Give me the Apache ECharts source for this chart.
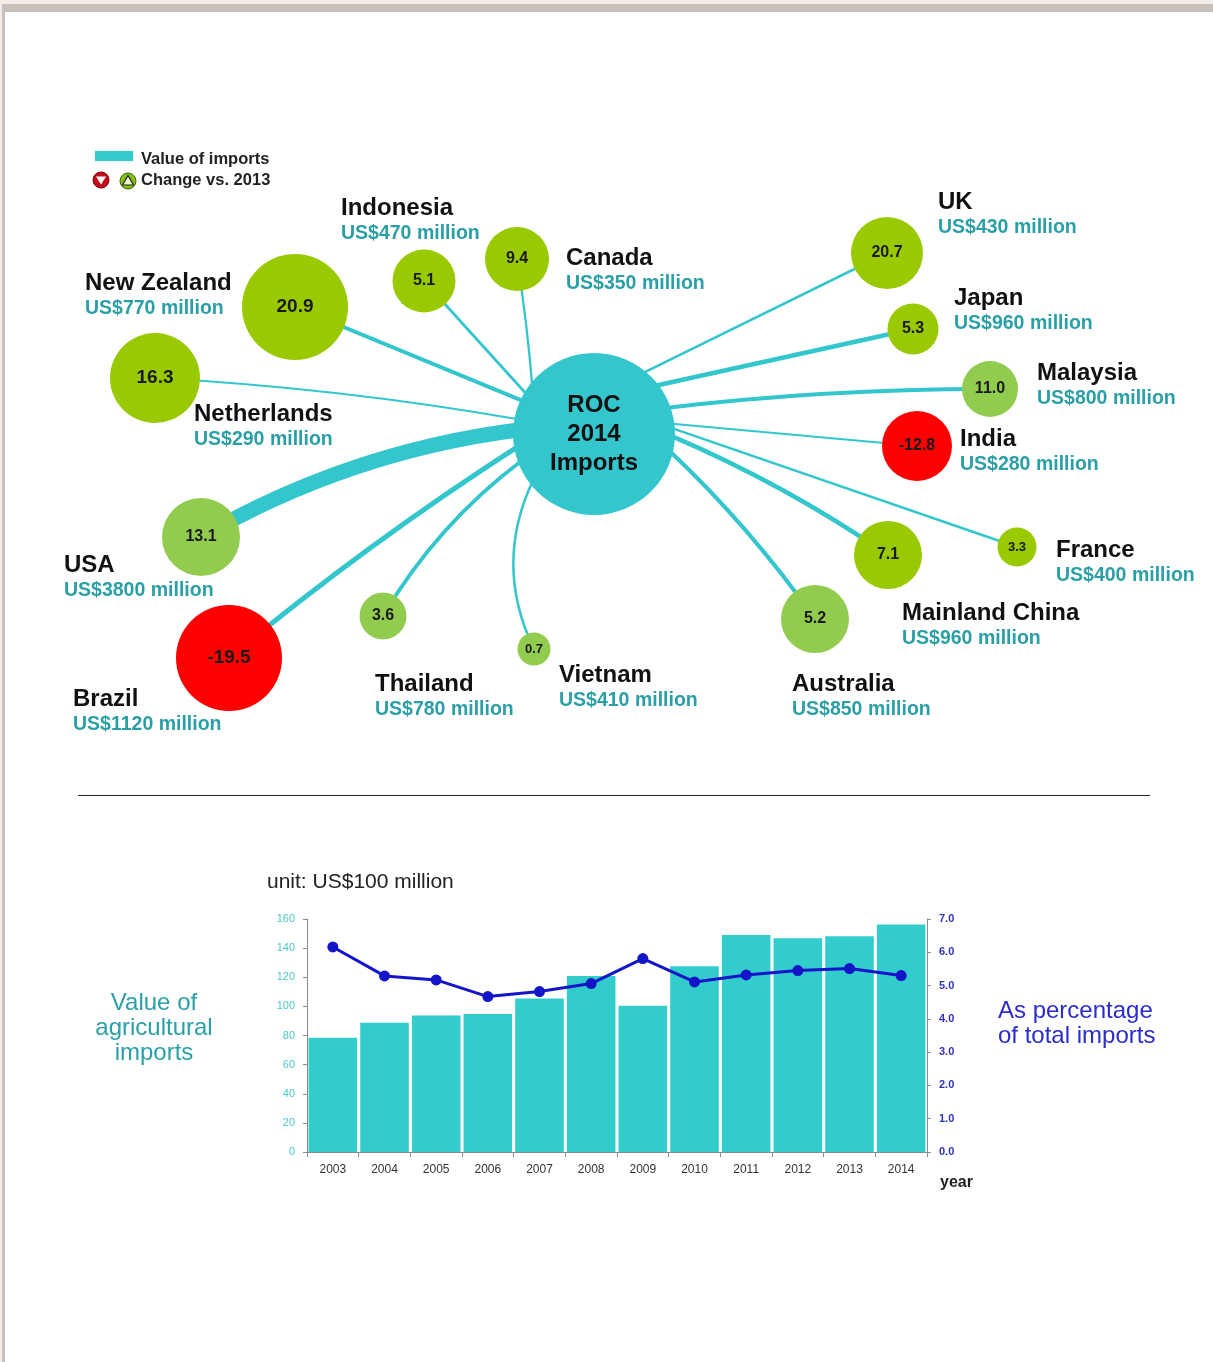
<!DOCTYPE html>
<html>
<head>
<meta charset="utf-8">
<title>ROC 2014 agricultural imports</title>
<script src="https://cdn.jsdelivr.net/npm/echarts@6/dist/echarts.min.js"></script>
<style>
  html, body { margin: 0; padding: 0; background: #f3ece7; }
  #frame { position: absolute; left: 2px; top: 4px; width: 1211px; height: 1358px; background: #fff;
           border-top: 8px solid #c9bfbc; border-left: 3px solid #c9bfbc; box-sizing: border-box; }
  #main { position: absolute; left: 0; top: 0; width: 1213px; height: 1362px; }
</style>
</head>
<body>
<div id="frame"></div>
<div id="main"></div>
<script>
// ---- data: top diagram ----
const countries = ['Indonesia', 'Canada', 'New Zealand', 'Netherlands', 'USA', 'Brazil', 'Thailand', 'Vietnam',
                   'Australia', 'Mainland China', 'France', 'India', 'Malaysia', 'Japan', 'UK'];
const importValues = [470, 350, 770, 290, 3800, 1120, 780, 410, 850, 960, 400, 280, 800, 960, 430]; // US$ million
const changeVs2013 = [5.1, 9.4, 20.9, 16.3, 13.1, -19.5, 3.6, 0.7, 5.2, 7.1, 3.3, -12.8, 11.0, 5.3, 20.7]; // %

// ---- data: bottom chart ----
const years = ['2003', '2004', '2005', '2006', '2007', '2008', '2009', '2010', '2011', '2012', '2013', '2014'];
const agriImports = [78.5, 88.8, 93.8, 94.7, 105.4, 120.9, 100.5, 127.5, 149.0, 146.7, 148.1, 156.3]; // US$100 million
const shareOfTotal = [6.16, 5.29, 5.17, 4.67, 4.82, 5.06, 5.81, 5.11, 5.32, 5.45, 5.51, 5.30]; // %
const leftTicks = [0, 160, 20];
const rightTicks = [0, 7, 1];

// layout of the diagram: bubble centre, diameter, label anchor,
// angle where the link meets the hub (deg, screen), link curve, lighter shade
const layout = {
  'Indonesia':      { at: [424, 281], d: 63,  lab: [341, 221], end: -150, curve: 0,     light: false },
  'Canada':         { at: [517, 259], d: 64,  lab: [566, 271], end: -144, curve: 0.02,  light: false },
  'New Zealand':    { at: [295, 307], d: 106, lab: [85, 296],  end: -155, curve: 0,     light: false },
  'Netherlands':    { at: [155, 378], d: 90,  lab: [194, 427], end: -169, curve: 0.03,  light: false },
  'USA':            { at: [201, 537], d: 78,  lab: [64, 578],  end: -177, curve: 0.1,   light: true },
  'Brazil':         { at: [229, 658], d: 106, lab: [73, 712],  end: 171,  curve: 0.03,  light: false },
  'Thailand':       { at: [383, 616], d: 47,  lab: [375, 697], end: 160,  curve: 0.1,   light: true },
  'Vietnam':        { at: [534, 649], d: 33,  lab: [559, 688], end: 143,  curve: 0.24,  light: true },
  'Australia':      { at: [815, 619], d: 68,  lab: [792, 697], end: 12,   curve: -0.05, light: true },
  'Mainland China': { at: [888, 555], d: 68,  lab: [902, 626], end: 1,    curve: -0.05, light: false },
  'France':         { at: [1017, 547], d: 39, lab: [1056, 563], end: -5,  curve: 0,     light: false },
  'India':          { at: [917, 446], d: 70,  lab: [960, 452], end: -8,   curve: 0,     light: false },
  'Malaysia':       { at: [990, 389], d: 56,  lab: [1037, 386], end: -20, curve: -0.03, light: true },
  'Japan':          { at: [913, 329], d: 51,  lab: [954, 311], end: -39,  curve: 0,     light: false },
  'UK':             { at: [887, 253], d: 72,  lab: [938, 215], end: -52,  curve: 0,     light: false }
};
const hub = { name: 'ROC', at: [594, 434], d: 162 };

const TEAL = '#33c6cc';
const FONT = '"Liberation Sans", Arial, sans-serif';

// graph nodes and links
const nodes = [{
  name: hub.name,
  value: hub.at,
  symbolSize: hub.d,
  itemStyle: { color: TEAL },
  label: { show: true, formatter: 'ROC\n2014\nImports', fontSize: 24, fontWeight: 'bold', lineHeight: 29, color: '#111', fontFamily: FONT }
}];
const links = [];
countries.forEach(function (c, i) {
  const l = layout[c];
  const ch = changeVs2013[i];
  const fill = ch < 0 ? '#ff0000' : (l.light ? '#92cc4e' : '#99c900');
  const fs = l.d >= 85 ? 19 : (l.d >= 45 ? 16 : 13);
  nodes.push({
    name: c,
    value: l.at,
    symbolSize: l.d,
    itemStyle: { color: fill },
    label: { show: true, formatter: ch.toFixed(1), fontSize: fs, fontWeight: 'bold', color: '#1a1a1a', fontFamily: FONT }
  });
  // hidden anchor on the rim of the hub where this link ends
  const a = l.end * Math.PI / 180;
  const r = hub.d / 2 - 5;
  nodes.push({
    name: 'end-' + c,
    value: [hub.at[0] + r * Math.cos(a), hub.at[1] + r * Math.sin(a)],
    symbolSize: 0,
    label: { show: false },
    z: 0
  });
  links.push({
    source: c,
    target: 'end-' + c,
    lineStyle: { width: 1 + 14 * importValues[i] / 3800, curveness: l.curve, color: TEAL, opacity: 1 }
  });
});

// country name labels
const nameLabels = countries.map(function (c, i) {
  return {
    value: layout[c].lab,
    label: { formatter: '{n|' + c + '}\n{v|US$' + importValues[i] + ' million}' }
  };
});

const chart = echarts.init(document.getElementById('main'));

const option = {
  animation: false,
  backgroundColor: 'transparent',
  textStyle: { fontFamily: FONT },
  grid: [
    { left: 0, top: 0, width: 1213, height: 790 },
    { left: 307, top: 919, width: 620, height: 233 }
  ],
  xAxis: [
    { gridIndex: 0, type: 'value', min: 0, max: 1213, show: false },
    {
      gridIndex: 1, type: 'category', data: years,
      axisLine: { lineStyle: { color: '#8a8a8a' } },
      axisTick: { show: true, alignWithLabel: false, length: 5, lineStyle: { color: '#8a8a8a' } },
      axisLabel: { color: '#333', fontSize: 12, margin: 12 }
    }
  ],
  yAxis: [
    { gridIndex: 0, type: 'value', min: 0, max: 790, inverse: true, show: false },
    {
      gridIndex: 1, type: 'value', min: leftTicks[0], max: leftTicks[1], interval: leftTicks[2],
      axisLine: { show: true, lineStyle: { color: '#8a8a8a' } },
      axisTick: { show: true, length: 4, lineStyle: { color: '#8a8a8a' } },
      splitLine: { show: false },
      axisLabel: { color: '#4cc8c8', fontSize: 11, margin: 12 }
    },
    {
      gridIndex: 1, type: 'value', position: 'right', min: rightTicks[0], max: rightTicks[1], interval: rightTicks[2],
      axisLine: { show: true, lineStyle: { color: '#8a8a8a' } },
      axisTick: { show: true, length: 4, lineStyle: { color: '#8a8a8a' } },
      splitLine: { show: false },
      axisLabel: { color: '#3030c0', fontSize: 11, fontWeight: 'bold', margin: 12, formatter: function (v) { return v.toFixed(1); } }
    }
  ],
  series: [
    {
      type: 'graph',
      coordinateSystem: 'cartesian2d',
      xAxisIndex: 0,
      yAxisIndex: 0,
      layout: 'none',
      roam: false,
      symbol: 'circle',
      data: nodes,
      links: links,
      z: 2
    },
    {
      type: 'scatter',
      xAxisIndex: 0,
      yAxisIndex: 0,
      symbolSize: 0,
      silent: true,
      z: 3,
      itemStyle: { opacity: 1 },
      data: nameLabels,
      label: {
        show: true,
        position: 'right',
        distance: 0,
        color: '#111',
        rich: {
          n: { fontSize: 24, fontWeight: 'bold', color: '#111', lineHeight: 26, fontFamily: FONT },
          v: { fontSize: 19.5, fontWeight: 'bold', color: '#2a9fa6', lineHeight: 26, fontFamily: FONT }
        }
      }
    },
    {
      type: 'bar',
      xAxisIndex: 1,
      yAxisIndex: 1,
      data: agriImports,
      barCategoryGap: '6%',
      itemStyle: { color: '#33cccc' }
    },
    {
      type: 'line',
      xAxisIndex: 1,
      yAxisIndex: 2,
      data: shareOfTotal,
      symbol: 'circle',
      symbolSize: 11,
      lineStyle: { color: '#1414c8', width: 3 },
      itemStyle: { color: '#1414c8' },
      z: 5
    }
  ],
  graphic: [
    // legend
    { type: 'rect', shape: { x: 95, y: 151, width: 38, height: 10 }, style: { fill: '#33cccc' } },
    { type: 'text', style: { text: 'Value of imports', x: 141, y: 159, font: 'bold 16.5px ' + FONT, fill: '#222', textVerticalAlign: 'middle' } },
    { type: 'circle', shape: { cx: 101, cy: 180, r: 8 }, style: { fill: '#c40d1c', stroke: '#7a0008', lineWidth: 1 } },
    { type: 'polygon', shape: { points: [[96, 176.5], [106, 176.5], [101, 184.5]] }, style: { fill: '#fff' } },
    { type: 'circle', shape: { cx: 128, cy: 181, r: 8 }, style: { fill: '#86bc1e', stroke: '#3e6a00', lineWidth: 1 } },
    { type: 'polygon', shape: { points: [[128, 175.5], [122.5, 185], [133.5, 185]] }, style: { fill: '#e8f5c8', stroke: '#222', lineWidth: 1.2 } },
    { type: 'text', style: { text: 'Change vs. 2013', x: 141, y: 180, font: 'bold 16.5px ' + FONT, fill: '#222', textVerticalAlign: 'middle' } },
    // separator
    { type: 'line', shape: { x1: 78, y1: 795.5, x2: 1150, y2: 795.5 }, style: { stroke: '#222', lineWidth: 1 } },
    // bottom chart annotations
    { type: 'text', style: { text: 'unit: US$100 million', x: 267, y: 882, font: '21px ' + FONT, fill: '#222', textVerticalAlign: 'middle' } },
    { type: 'text', style: { text: 'year', x: 940, y: 1183, font: 'bold 16px ' + FONT, fill: '#222', textVerticalAlign: 'middle' } },
    { type: 'text', style: { text: 'Value of\nagricultural\nimports', x: 154, y: 1028, font: '24px ' + FONT, lineHeight: 25, fill: '#2a9fa6', textAlign: 'center', textVerticalAlign: 'middle' } },
    { type: 'text', style: { text: 'As percentage\nof total imports', x: 998, y: 1024, font: '24px ' + FONT, lineHeight: 25, fill: '#2b2bcc', textVerticalAlign: 'middle' } }
  ]
};

chart.setOption(option);
window.addEventListener('resize', function () { chart.resize(); });
</script>
</body>
</html>
